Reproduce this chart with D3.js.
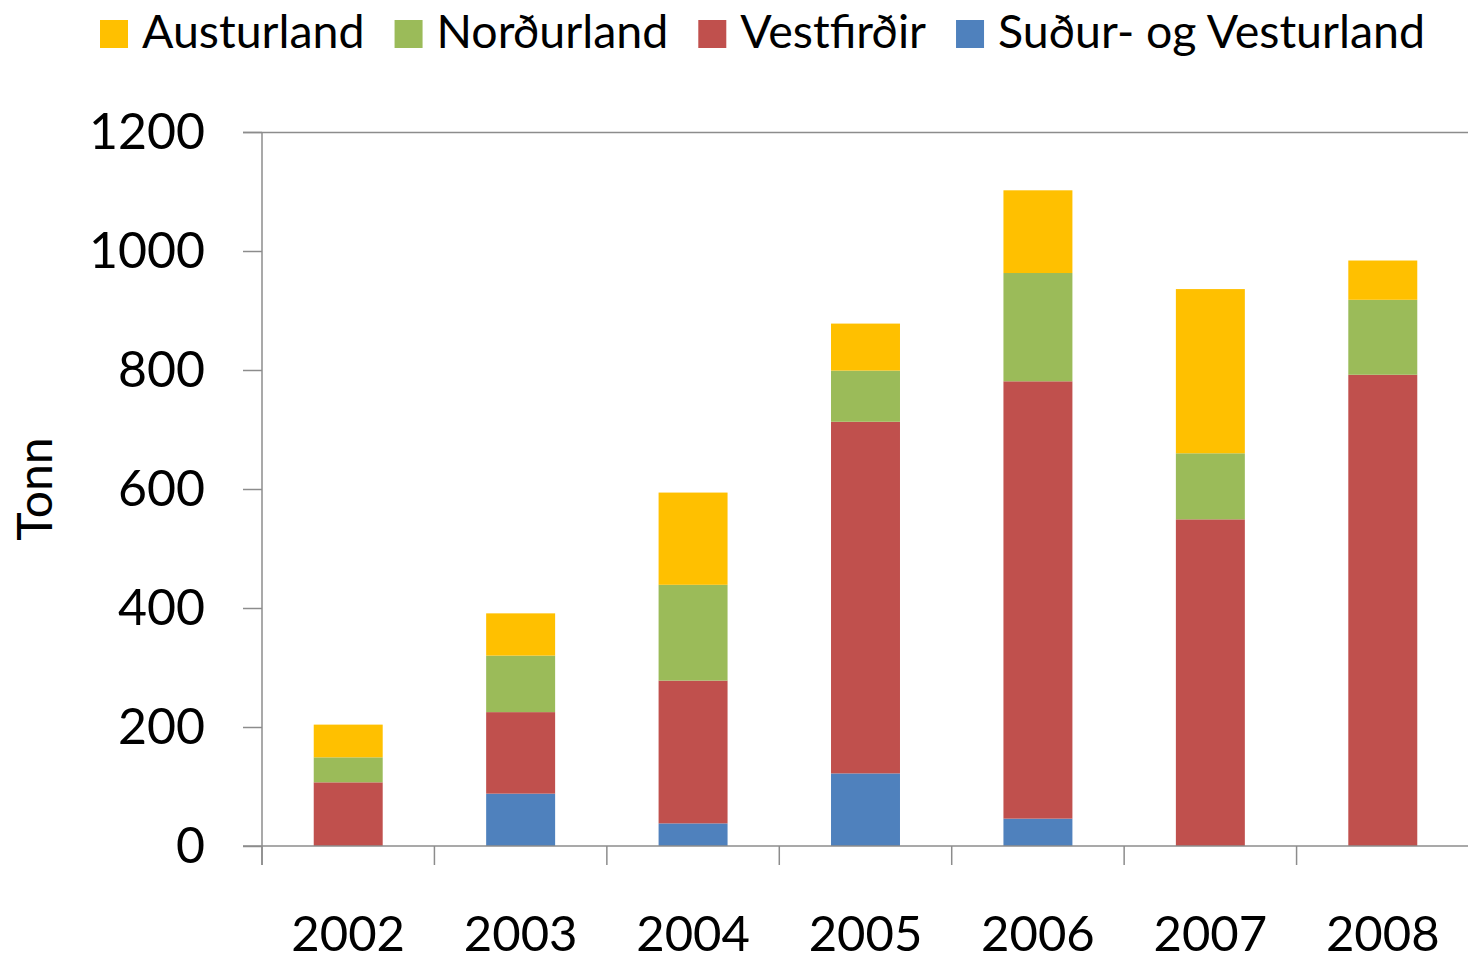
<!DOCTYPE html>
<html>
<head>
<meta charset="utf-8">
<script src="https://cdn.jsdelivr.net/npm/d3@7"></script>
<style>
  body { margin: 0; background: #fff; }
  svg text { font-family: Lato, "Open Sans", sans-serif; fill: #000; }
</style>
</head>
<body>
<div id="chart"></div>
<script>
// data (tonnes per year)
const years = ["2002", "2003", "2004", "2005", "2006", "2007", "2008"];
const sudurVestur = [0, 88, 38, 122, 46, 0, 0];
const vestfirdir = [107, 137, 240, 591, 735, 549, 792];
const nordurland = [42, 95, 161, 86, 182, 111, 126];
const austurland = [55, 71, 155, 79, 139, 276, 66];
const yTicks = [0, 200, 400, 600, 800, 1000, 1200];

// stacking order bottom -> top
const seriesNames = ["Suður- og Vesturland", "Vestfirðir", "Norðurland", "Austurland"];
const seriesValues = [sudurVestur, vestfirdir, nordurland, austurland];
const colors = ["#4F81BD", "#C0504D", "#9BBB59", "#FFC000"];
// legend shows top series first
const legendOrder = [3, 2, 1, 0];

const W = 1468, H = 960;
const margin = { top: 132, right: -1, bottom: 114, left: 262 };
const width = W - margin.left - margin.right;
const height = H - margin.top - margin.bottom;

const rows = years.map((y, i) => {
    const r = { year: y };
    seriesNames.forEach((s, k) => r[s] = seriesValues[k][i]);
    return r;
});
const stacked = d3.stack().keys(seriesNames)(rows);

const svg = d3.select("#chart").append("svg")
    .attr("width", W)
    .attr("height", H);

const g = svg.append("g")
    .attr("transform", `translate(${margin.left}, ${margin.top})`);

const x = d3.scaleBand()
    .domain(years)
    .range([0, width])
    .paddingInner(0.6)
    .paddingOuter(0.3);

const y = d3.scaleLinear()
    .domain([0, 1200])
    .range([height, 0]);

const axisColor = "#8c8c8c";

// top border line at 1200
g.append("line")
    .attr("x1", -19).attr("x2", width)
    .attr("y1", y(1200) + 0.5).attr("y2", y(1200) + 0.5)
    .attr("stroke", axisColor).attr("stroke-width", 1.5);

// bars
g.selectAll(".series")
    .data(stacked)
    .enter()
    .append("g")
    .attr("class", "series")
    .attr("fill", (d, i) => colors[i])
    .selectAll("rect")
    .data(d => d)
    .enter()
    .append("rect")
    .attr("x", d => x(d.data.year))
    .attr("y", d => y(d[1]))
    .attr("width", x.bandwidth())
    .attr("height", d => y(d[0]) - y(d[1]));

// y axis
const yAxis = g.append("g")
    .call(d3.axisLeft(y).tickValues(yTicks).tickFormat(d3.format("d")).tickSize(19).tickPadding(38));
yAxis.selectAll("text")
    .style("font-size", "50px");
yAxis.selectAll("line, path").attr("stroke", axisColor).attr("stroke-width", 1.5);
yAxis.select(".domain").attr("d", `M0,0V${height + 19}`);

// x axis: line at zero with ticks at category boundaries
const step = x.step();
g.append("line")
    .attr("x1", -19).attr("x2", width)
    .attr("y1", height).attr("y2", height)
    .attr("stroke", axisColor).attr("stroke-width", 1.5);
g.selectAll(".xtick")
    .data(d3.range(years.length + 1))
    .enter()
    .append("line")
    .attr("class", "xtick")
    .attr("x1", i => i * step).attr("x2", i => i * step)
    .attr("y1", height).attr("y2", height + 19)
    .attr("stroke", axisColor).attr("stroke-width", 1.5);
g.selectAll(".xlabel")
    .data(years)
    .enter()
    .append("text")
    .attr("class", "xlabel")
    .attr("x", d => x(d) + x.bandwidth() / 2)
    .attr("y", height + 105)
    .attr("text-anchor", "middle")
    .style("font-size", "49px")
    .text(d => d);

// y axis title
svg.append("text")
    .attr("transform", `translate(52, 489) rotate(-90)`)
    .attr("text-anchor", "middle")
    .style("font-size", "48px")
    .text("Tonn");

// legend, laid out left to right
const legend = svg.append("g").attr("transform", "translate(100, 0)");
let lx = 0;
legendOrder.forEach(k => {
    const item = legend.append("g").attr("transform", `translate(${lx}, 0)`);
    item.append("rect")
        .attr("x", 0).attr("y", 20)
        .attr("width", 28).attr("height", 28)
        .attr("fill", colors[k]);
    const t = item.append("text")
        .attr("x", 42).attr("y", 48)
        .style("font-size", "46.5px")
        .text(seriesNames[k]);
    lx += 42 + t.node().getComputedTextLength() + 30;
});
</script>
</body>
</html>
